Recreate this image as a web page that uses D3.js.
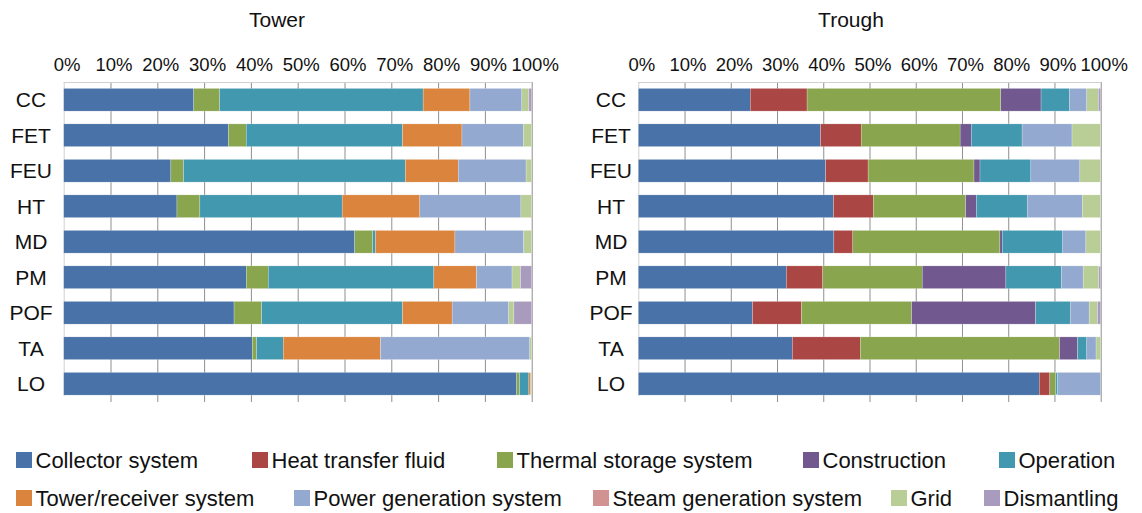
<!DOCTYPE html>
<html>
<head>
<meta charset="utf-8">
<script src="https://cdn.jsdelivr.net/npm/d3@7"></script>
<style>
  body { margin: 0; background: #fff; }
  text { font-family: "Liberation Sans", Arial, Helvetica, sans-serif; fill: #111; }
</style>
</head>
<body>
<script>
// categories (top to bottom)
var categories = ["CC","FET","FEU","HT","MD","PM","POF","TA","LO"];

var seriesNames = ["Collector system","Heat transfer fluid","Thermal storage system","Construction","Operation",
                   "Tower/receiver system","Power generation system","Steam generation system","Grid","Dismantling"];
var seriesColors = ["#4872a8","#aa4644","#89a54e","#71588f","#4298af","#db843d","#93a9cf","#d19392","#b9cd96","#a99bbd"];

// shares in %, one row per category, columns in seriesNames order
var towerRows = [
    [27.8, 0, 5.5, 0, 43.5, 10.0, 11.1, 0, 1.5, 0.6],
    [35.2, 0, 3.8, 0, 33.4, 12.7, 13.1, 0, 1.8, 0],
    [22.9, 0, 2.7, 0, 47.4, 11.3, 14.5, 0, 1.2, 0],
    [24.2, 0, 4.9, 0, 30.4, 16.6, 21.6, 0, 2.3, 0],
    [62.2, 0, 3.8, 0, 0.6, 17.0, 14.7, 0, 1.7, 0],
    [39.0, 0, 4.7, 0, 35.4, 9.1, 7.6, 0, 1.8, 2.4],
    [36.4, 0, 5.9, 0, 30.1, 10.6, 12.1, 0, 1.1, 3.8],
    [40.3, 0, 0.9, 0, 5.7, 20.8, 31.9, 0, 0.4, 0],
    [96.8, 0, 0.6, 0, 2.0, 0.4, 0, 0, 0.2, 0]
];
var troughRows = [
    [24.2, 12.3, 41.9, 8.7, 6.1, 0, 3.8, 0, 2.5, 0.5],
    [39.4, 8.8, 21.4, 2.4, 11.0, 0, 10.8, 0, 6.2, 0],
    [40.5, 9.2, 22.9, 1.3, 11.0, 0, 10.6, 0, 4.5, 0],
    [42.2, 8.6, 20.0, 2.3, 11.0, 0, 11.9, 0, 4.0, 0],
    [42.3, 4.1, 31.8, 0.5, 13.1, 0, 5.0, 0, 3.2, 0],
    [32.0, 7.9, 21.5, 18.1, 12.0, 0, 4.7, 0, 3.4, 0.4],
    [24.7, 10.6, 23.8, 26.8, 7.5, 0, 4.1, 0, 1.8, 0.7],
    [33.3, 14.7, 43.1, 3.9, 2.0, 0, 2.0, 0, 1.0, 0],
    [86.7, 2.3, 1.3, 0, 0.4, 0, 9.3, 0, 0, 0]
];

var svg = d3.select("body").append("svg")
    .attr("width", 1142)
    .attr("height", 513);

var color = d3.scaleOrdinal().domain(d3.range(seriesNames.length)).range(seriesColors);

var y = d3.scaleBand()
    .domain(categories)
    .range([82, 401.5])
    .paddingInner(0.36)
    .paddingOuter(0.18);

function drawPanel(rows, title, x0, x1, titleX, labelX){
    var x = d3.scaleLinear().domain([0, 100]).range([x0, x1]);

    svg.append("text")
        .attr("x", titleX).attr("y", 27)
        .attr("text-anchor", "middle")
        .style("font-size", "21px")
        .text(title);

    var g = svg.append("g");
    var ticks = d3.range(0, 101, 10);

    // gridlines
    g.selectAll(".grid")
        .data(ticks.slice(1))
        .enter().append("line")
        .attr("x1", function(d){ return x(d) + 0.5; })
        .attr("x2", function(d){ return x(d) + 0.5; })
        .attr("y1", 82).attr("y2", 402)
        .attr("stroke", "#8f8f8f");
    g.append("line")
        .attr("x1", x0).attr("x2", x1)
        .attr("y1", 82.5).attr("y2", 82.5)
        .attr("stroke", "#d0d0d0");
    g.append("line")
        .attr("x1", x0 + 0.5).attr("x2", x0 + 0.5)
        .attr("y1", 82).attr("y2", 396)
        .attr("stroke", "#d0d0d0");

    var xAxis = d3.axisTop(x)
        .tickValues(ticks)
        .tickSize(0)
        .tickPadding(11)
        .tickFormat(function(d){ return d + "%"; });
    var ax = svg.append("g")
        .attr("transform", "translate(3,82)")
        .call(xAxis);
    ax.select(".domain").remove();
    ax.selectAll("text")
        .style("font-size", "18.5px")
        .style("font-family", "'Liberation Sans', Arial, sans-serif")
        .attr("fill", "#111");

    // category labels
    svg.selectAll(null)
        .data(categories)
        .enter().append("text")
        .attr("x", labelX)
        .attr("y", function(d){ return y(d) + y.bandwidth() / 2; })
        .attr("dy", "0.36em")
        .attr("text-anchor", "middle")
        .style("font-size", "21px")
        .text(function(d){ return d; });

    var stack = d3.stack().keys(d3.range(seriesNames.length));
    var layers = stack(rows);

    var layer = g.selectAll(".layer")
        .data(layers)
        .enter().append("g")
        .attr("class", "layer")
        .attr("fill", function(d, i){ return color(i); });

    layer.selectAll("rect")
        .data(function(d){ return d; })
        .enter().append("rect")
        .attr("x", function(d){ return x(d[0]); })
        .attr("y", function(d, i){ return y(categories[i]); })
        .attr("width", function(d){ return x(d[1]) - x(d[0]); })
        .attr("height", y.bandwidth())
        .attr("stroke", "#fff")
        .attr("stroke-width", function(d){ return d[1] > d[0] ? 0.4 : 0; })
        .attr("stroke-opacity", 0.6);
}

drawPanel(towerRows, "Tower", 63.7, 531.7, 277, 31);
drawPanel(troughRows, "Trough", 638.3, 1100.7, 851, 611);

// legend
var legendPos = [
    [16, 452], [252, 452], [497, 452], [803, 452], [999, 452],
    [16, 490], [294, 490], [593, 490], [891, 490], [984, 490]
];
var legend = svg.append("g").attr("class", "legend")
    .selectAll("g")
    .data(seriesNames)
    .enter().append("g")
    .attr("transform", function(d, i){ return "translate(" + legendPos[i][0] + "," + legendPos[i][1] + ")"; });
legend.append("rect")
    .attr("width", 16).attr("height", 16)
    .attr("fill", function(d, i){ return color(i); });
legend.append("text")
    .attr("x", 19.5).attr("y", 15.5)
    .style("font-size", "22px")
    .text(function(d){ return d; });
</script>
</body>
</html>
